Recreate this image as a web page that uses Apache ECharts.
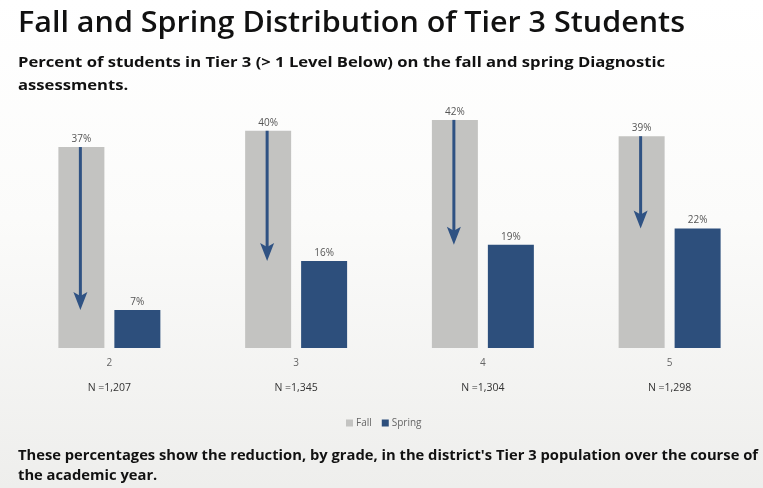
<!DOCTYPE html>
<html>
<head>
<meta charset="utf-8">
<script src="https://cdn.jsdelivr.net/npm/echarts@6/dist/echarts.min.js"></script>
<style>
html,body{margin:0;padding:0;background:#fff;}
#chart{width:763px;height:488px;}
</style>
</head>
<body>
<div id="chart"></div>
<script>
// ---- data ----
var grades = ['2', '3', '4', '5'];
var nLabels = ['N =1,207', 'N =1,345', 'N =1,304', 'N =1,298'];
var fallValues = [37, 40, 42, 39];
var springValues = [7, 16, 19, 22];
var seriesNames = ['Fall', 'Spring'];

var titleText = 'Fall and Spring Distribution of Tier 3 Students';
var subtitleLines = ['Percent of students in Tier 3 (> 1 Level Below) on the fall and spring Diagnostic', 'assessments.'];
var footerLines = ["These percentages show the reduction, by grade, in the district's Tier 3 population over the course of", 'the academic year.'];

// ---- helpers ----
var measureCtx = document.createElement('canvas').getContext('2d');
function textScale(text, font, targetWidth) {
  measureCtx.font = font;
  return targetWidth / measureCtx.measureText(text).width;
}
function textEl(text, font, x, y, scale) {
  return {
    type: 'text', x: x, y: y, scaleX: scale, silent: true,
    style: { text: text, font: font, fill: '#111', verticalAlign: 'middle', align: 'left' }
  };
}

var FALL_COLOR = '#c3c3c1';
var SPRING_COLOR = '#2d4f7c';
var ARROW_COLOR = '#2f5283';
var BAR_W = 46;
var BAR_GAP = 10;

var arrowData = grades.map(function (g, i) { return [i, fallValues[i], springValues[i]]; });

var titleFont = '600 28px "Open Sans"';
var subFont = '700 15px "Open Sans"';
var titleScale = textScale(titleText, titleFont, 667);
var subScale = textScale(subtitleLines[0], subFont, 647);
var footScale = textScale(footerLines[0], subFont, 740);

var chart = echarts.init(document.getElementById('chart'), null, { renderer: 'canvas' });
var option = {
  animation: false,
  backgroundColor: {
    type: 'linear', x: 0, y: 0, x2: 0, y2: 1,
    colorStops: [{ offset: 0, color: '#ffffff' }, { offset: 0.45, color: '#fbfbfa' }, { offset: 1, color: '#eeeeec' }]
  },
  textStyle: { fontFamily: '"Open Sans", "Noto Sans", sans-serif' },
  graphic: [
    textEl(titleText, titleFont, 18, 24, titleScale),
    textEl(subtitleLines[0], subFont, 18, 63, subScale),
    textEl(subtitleLines[1], subFont, 18, 86, subScale),
    textEl(footerLines[0], subFont, 18, 456, footScale),
    textEl(footerLines[1], subFont, 18, 476, footScale)
  ],
  legend: {
    data: seriesNames,
    left: 341, top: 413,
    itemWidth: 7, itemHeight: 7, itemGap: 10,
    icon: 'rect',
    textStyle: { fontSize: 10, color: '#666', padding: [0, 0, 0, -2] }
  },
  grid: { left: 16, right: 0, top: 103.6, bottom: 140, containLabel: false },
  xAxis: {
    type: 'category',
    data: grades,
    axisLine: { show: false },
    axisTick: { show: false },
    axisLabel: {
      margin: 8,
      formatter: function (v, i) { return '{g|' + v + '}\n{n|' + nLabels[i] + '}'; },
      rich: {
        g: { fontSize: 10, color: '#666', lineHeight: 14 },
        n: { fontSize: 10.5, color: '#333', lineHeight: 36 }
      }
    }
  },
  yAxis: { type: 'value', min: 0, max: 45, show: false, splitLine: { show: false } },
  series: [
    {
      name: 'Fall', type: 'bar', data: fallValues,
      barWidth: BAR_W, barGap: (BAR_GAP / BAR_W * 100).toFixed(1) + '%',
      itemStyle: { color: FALL_COLOR },
      label: { show: true, position: 'top', distance: 3, fontSize: 10, color: '#555', formatter: '{c}%' }
    },
    {
      name: 'Spring', type: 'bar', data: springValues,
      barWidth: BAR_W,
      itemStyle: { color: SPRING_COLOR },
      label: { show: true, position: 'top', distance: 3, fontSize: 10, color: '#555', formatter: '{c}%' }
    },
    {
      type: 'custom', name: 'arrows', data: arrowData, z: 10, silent: true,
      encode: { x: 0, y: [1, 2] },
      renderItem: function (params, api) {
        var top = api.coord([api.value(0), api.value(1)]);
        var bot = api.coord([api.value(0), api.value(2)]);
        var x = top[0] - (BAR_W + BAR_GAP) / 2 - 1;
        var headH = 18, headW = 7, notch = 4;
        return {
          type: 'group',
          children: [
            { type: 'line', shape: { x1: x, y1: top[1], x2: x, y2: bot[1] - headH + notch + 1 },
              style: { stroke: ARROW_COLOR, lineWidth: 3 } },
            { type: 'polygon', shape: { points: [[x, bot[1]], [x - headW, bot[1] - headH], [x, bot[1] - headH + notch], [x + headW, bot[1] - headH]] },
              style: { fill: ARROW_COLOR } }
          ]
        };
      }
    }
  ]
};
chart.setOption(option);
</script>
</body>
</html>
